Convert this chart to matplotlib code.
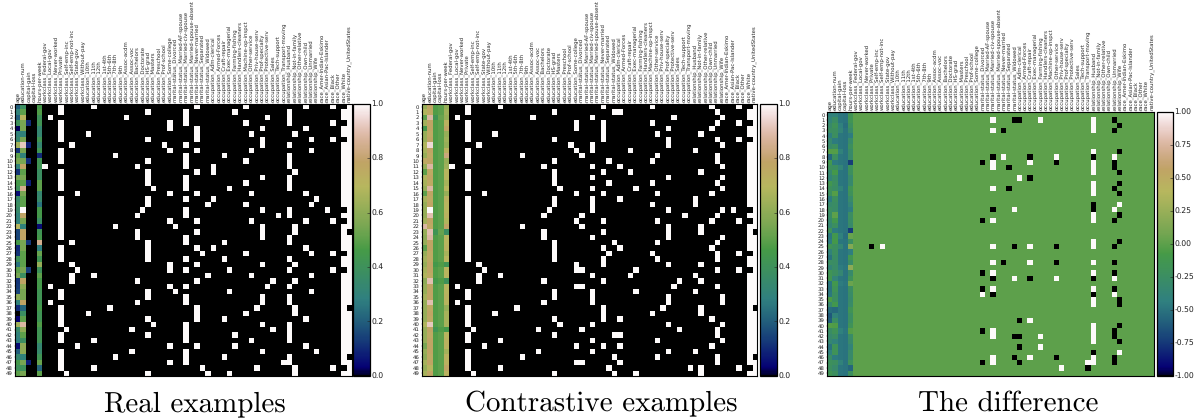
import matplotlib
matplotlib.use('Agg')
import matplotlib.pyplot as plt
import numpy as np

plt.rcParams['text.hinting'] = 'none'

features = ['age', 'education-num', 'capital-gain', 'capital-loss', 'hours-per-week',
            'workclass_Federal-gov', 'workclass_Local-gov', 'workclass_Never-worked', 'workclass_Private',
            'workclass_Self-emp-inc', 'workclass_Self-emp-not-inc', 'workclass_State-gov', 'workclass_Without-pay',
            'education_10th', 'education_11th', 'education_12th', 'education_1st-4th', 'education_5th-6th',
            'education_7th-8th', 'education_9th', 'education_Assoc-acdm', 'education_Assoc-voc',
            'education_Bachelors', 'education_Doctorate', 'education_HS-grad', 'education_Masters',
            'education_Preschool', 'education_Prof-school', 'education_Some-college',
            'marital-status_Divorced', 'marital-status_Married-AF-spouse', 'marital-status_Married-civ-spouse',
            'marital-status_Married-spouse-absent', 'marital-status_Never-married', 'marital-status_Separated',
            'marital-status_Widowed', 'occupation_Adm-clerical', 'occupation_Armed-Forces', 'occupation_Craft-repair',
            'occupation_Exec-managerial', 'occupation_Farming-fishing', 'occupation_Handlers-cleaners',
            'occupation_Machine-op-inspct', 'occupation_Other-service', 'occupation_Priv-house-serv',
            'occupation_Prof-specialty', 'occupation_Protective-serv', 'occupation_Sales', 'occupation_Tech-support',
            'occupation_Transport-moving', 'relationship_Husband', 'relationship_Not-in-family',
            'relationship_Other-relative', 'relationship_Own-child', 'relationship_Unmarried', 'relationship_Wife',
            'race_Amer-Indian-Eskimo', 'race_Asian-Pac-Islander', 'race_Black', 'race_Other', 'race_White',
            'native-country_UnitedStates']

# continuous columns, real examples
real_age = [.2, .3, .2, .4, .02, .3, .33, .65, .12, .5, .55, .3, .12, .55, .45, .4, .05, .35, .38, .35, .3, .3, .7, .15, .15,
            .45, .1, .12, .4, .25, .5, .55, .12, .13, .15, .6, .3, .1, .0, .03, .65, .35, .3, .28, .05, .2, .33, .45, .4, .5]
real_edu = [.38, .5, .7, .55, .55, .3, .55, .92, .55, .3, .55, .78, .5, .55, .5, .85, .55, .5, .5, 1.0, .78, .55, .3, .78, .78,
            .55, .55, .5, .5, .5, .55, .38, .78, .6, .55, .55, .78, .22, .38, .5, .88, .6, .5, .38, .6, .6, .3, .55, .4, .55]
real_gain = [0, 0, 0, .1, 0, 0, 0, .08, 0, 0, .1, 0, 0, 0, .08, 0, 0, 0, 0, 0, 0, 0, 0, 0, 0,
             .12, 0, 0, 0, 0, .13, 0, 0, 0, 0, 0, 0, 0, 0, 0, 0, 0, 0, 0, 0, 0, 0, .08, 0, 0]
real_hours = [.45, .48, .4, .42, .33, .33, .42, .33, .42, .1, .42, .42, .38, .38, .5, .5, .33, .35, .25, .45, .45, .38, .05, .42, .45,
              .85, .28, .52, .42, .62, .4, .5, .45, .45, .42, .42, .42, .45, .42, .42, .48, .42, .42, .42, .33, .35, .42, .52, .22, .5]

# continuous columns, contrastive examples
con_age = [.62, .68, .5, .65, .45, .62, .62, .68, .66, .62, .76, .62, .5, .68, .66, .62, .5, .66, .62, .62, .62, .65, .88, .62, .6,
           .62, .5, .62, .65, .62, .66, .68, .6, .62, .62, .66, .62, .62, .62, .62, .68, .62, .62, .62, .55, .62, .6, .66, .62, .66]
con_edu = [.78, .76, .88, .78, .78, .76, .78, .95, .78, .76, .78, .88, .76, .78, .76, .88, .78, .76, .78, 1.0, .9, .78, .76, .9, .88,
           .78, .78, .76, .76, .78, .78, .76, .9, .78, .78, .78, .9, .76, .78, .76, .92, .78, .76, .78, .78, .78, .76, .78, .7, .78]
con_gain = [.48, .48, .42, .48, .48, .48, .48, .48, .48, .48, .48, .48, .48, .48, .48, .48, .48, .48, .48, .48, .48, .48, .48, .42, .48,
            .48, .48, .48, .48, .45, .48, .48, .45, .48, .48, .48, .48, .48, .48, .48, .48, .42, .48, .48, .48, .48, .48, .48, .48, .48]
con_loss = [.5, .5, .52, .5, .5, .5, .5, .5, .5, .5, .5, .5, .5, .5, .5, .5, .5, .5, .5, .5, .5, .5, .5, .52, .5,
            .5, .5, .5, .5, .48, .5, .5, .48, .5, .5, .5, .5, .5, .5, .5, .5, .48, .5, .5, .5, .5, .5, .5, .5, .5]
con_hours = [.62, .64, .62, .72, .78, .62, .64, .62, .72, .82, .62, .64, .7, .7, .66, .7, .62, .72, .7, .7, .72, .68, .78, .38, .7,
             .7, .72, .66, .7, .42, .7, .7, .4, .7, .7, .72, .7, .62, .66, .66, .66, .45, .7, .72, .72, .65, .72, .72, .78, .72]

# active one-hot columns for each row
real_hot = [[8, 14, 33, 42, 53, 58], [8, 24, 31, 40, 50], [6, 20, 31, 46, 50], [8, 28, 31, 42, 50, 58], [8, 28, 33, 45, 53],
            [8, 13, 33, 43, 51], [8, 24, 33, 45, 54, 58], [10, 27, 31, 45, 50], [8, 28, 33, 43, 54], [8, 18, 31, 38, 50],
            [8, 24, 31, 42, 50], [5, 22, 31, 36, 50], [8, 24, 33, 36, 51], [8, 24, 31, 45, 50], [8, 24, 31, 42, 50],
            [8, 25, 31, 39, 50], [11, 28, 33, 43, 53], [8, 24, 31, 36, 55], [8, 24, 35, 42, 54], [8, 23, 31, 45, 50, 57],
            [8, 22, 31, 48, 50], [8, 28, 33, 43, 53, 58], [8, 18, 29, 45, 51], [8, 22, 33, 45, 51], [8, 22, 31, 45, 50],
            [10, 24, 31, 38, 50], [8, 24, 33, 36, 53], [8, 24, 34, 42, 54, 58], [8, 24, 31, 38, 50], [10, 28, 33, 45, 51],
            [11, 28, 31, 39, 50, 58], [10, 14, 35, 43, 54], [10, 22, 33, 47, 51], [6, 28, 31, 46, 50], [8, 24, 29, 39, 54],
            [8, 24, 31, 45, 50], [6, 22, 31, 45, 50], [8, 17, 33, 44, 51], [8, 13, 33, 42, 51], [8, 24, 33, 38, 53],
            [8, 25, 31, 45, 50], [9, 21, 31, 47, 50], [8, 24, 31, 40, 50], [8, 14, 31, 43, 50], [11, 28, 33, 40, 53],
            [8, 21, 31, 45, 55], [8, 18, 31, 38, 50], [8, 28, 31, 49, 50], [8, 14, 34, 44, 51, 58], [9, 24, 35, 39, 51]]
con_hot = [[8, 14, 33, 42, 53, 58], [8, 24, 35, 36, 54], [6, 20, 31, 46, 55], [8, 28, 33, 42, 54, 58], [8, 28, 33, 45, 53],
           [8, 13, 33, 43, 51], [8, 24, 33, 45, 54, 58], [10, 27, 31, 45, 55], [8, 28, 31, 38, 50], [8, 18, 29, 43, 54],
           [8, 24, 34, 42, 54], [5, 22, 31, 36, 55], [8, 24, 33, 38, 51], [8, 24, 31, 45, 55], [8, 24, 34, 42, 54],
           [8, 25, 31, 39, 55], [11, 28, 33, 43, 53], [8, 24, 31, 36, 50], [8, 24, 31, 42, 50], [8, 23, 31, 45, 55, 57],
           [8, 22, 29, 48, 54], [8, 28, 33, 43, 53, 58], [8, 18, 29, 45, 51], [8, 22, 33, 45, 51], [8, 22, 31, 45, 55],
           [8, 24, 35, 43, 54], [8, 24, 33, 36, 53], [8, 24, 34, 42, 54, 58], [8, 24, 33, 43, 54], [10, 28, 33, 45, 51],
           [11, 28, 29, 39, 54, 58], [10, 14, 31, 38, 50], [10, 22, 33, 47, 51], [6, 28, 29, 46, 54], [8, 24, 31, 39, 50],
           [8, 24, 31, 45, 55], [6, 22, 31, 45, 55], [8, 17, 33, 44, 51], [8, 13, 33, 42, 51], [8, 24, 33, 36, 53],
           [8, 25, 31, 45, 55], [9, 21, 29, 47, 54], [8, 24, 35, 36, 54], [8, 14, 31, 43, 55], [11, 28, 33, 36, 53],
           [8, 21, 31, 45, 50], [8, 18, 35, 43, 54], [8, 28, 29, 36, 54], [8, 14, 34, 49, 51, 58], [9, 24, 35, 39, 51]]
not_us_rows = [23, 37, 46]

titles = ['Real examples', 'Contrastive examples', 'The difference']


def build(age, edu, gain, loss, hours, hot):
    m = np.zeros((50, 62))
    m[:, 0] = age
    m[:, 1] = edu
    m[:, 2] = gain
    m[:, 3] = loss
    m[:, 4] = hours
    for r, cols in enumerate(hot):
        m[r, cols] = 1
        # race_White unless another race column is set
        if 57 not in cols and 58 not in cols:
            m[r, 60] = 1
    m[:, 61] = 1
    m[not_us_rows, 61] = 0
    return m


def panel(fig, rect, crect, m, vmin, vmax, cticks, cfmt, title, title_x):
    W, H = 1196.0, 419.0
    ax = fig.add_axes([rect[0] / W, 1 - rect[3] / H, (rect[2] - rect[0]) / W, (rect[3] - rect[1]) / H])
    im = ax.imshow(m, cmap='gist_earth', vmin=vmin, vmax=vmax, aspect='auto', interpolation='nearest')
    ax.xaxis.tick_top()
    ax.set_xticks(range(62))
    ax.set_xticklabels(features, rotation=90, fontsize=3.85, color='#222222')
    ax.set_yticks(range(50))
    ax.set_yticklabels(range(50), fontsize=3.9, color='#222222')
    ax.tick_params(axis='x', top=True, bottom=True, length=1, width=0.3, pad=0.8, color='#777777')
    ax.tick_params(axis='y', length=1, width=0.3, pad=0.8, color='#777777')
    for s in ax.spines.values():
        s.set_linewidth(0.8)
    cax = fig.add_axes([crect[0] / W, 1 - crect[3] / H, (crect[2] - crect[0]) / W, (crect[3] - crect[1]) / H])
    cb = fig.colorbar(im, cax=cax)
    cb.set_ticks(cticks)
    cb.set_ticklabels([cfmt % t for t in cticks])
    cb.ax.tick_params(labelsize=5.5, length=2.5, width=0.4, pad=1, direction='in', colors='#222222')
    cb.outline.set_linewidth(0.9)
    fig.text(title_x / W, 1 - 411 / H, title, family='cmr10', fontsize=20.9, ha='center', va='baseline')


real = build(real_age, real_edu, real_gain, np.zeros(50), real_hours, real_hot)
contrast = build(con_age, con_edu, con_gain, con_loss, con_hours, con_hot)
diff = real - contrast

fig = plt.figure(figsize=(11.96, 4.19), dpi=100)
panel(fig, (15.3, 104, 351.7, 375.7), (353.3, 104, 370, 375.7), real, 0, 1,
      [0, .2, .4, .6, .8, 1], '%.1f', titles[0], 195)
panel(fig, (421.7, 104, 757, 375.7), (759.5, 104, 776.7, 375.7), contrast, 0, 1,
      [0, .2, .4, .6, .8, 1], '%.1f', titles[1], 601)
panel(fig, (827.3, 112, 1154.3, 375.7), (1156.7, 112, 1173, 375.7), diff, -1, 1,
      [-1, -.75, -.5, -.25, 0, .25, .5, .75, 1], '%.2f', titles[2], 1008)

fig.savefig('out.png', dpi=100)
